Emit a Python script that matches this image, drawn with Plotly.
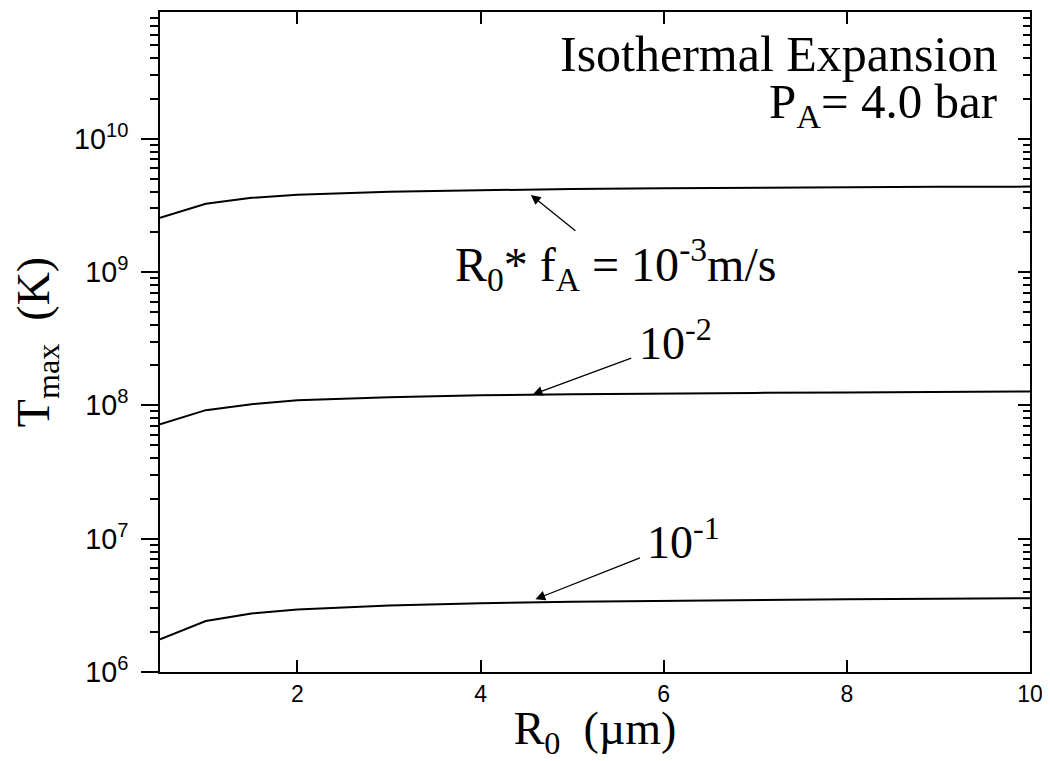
import plotly.graph_objects as go
import numpy as np

# Data
r0_um = [0.5, 1.0, 1.5, 2.0, 3.0, 4.0, 5.0, 6.0, 7.0, 8.0, 9.0, 10.0]
tmax_1e_3 = [2.55e9, 3.25e9, 3.6e9, 3.8e9, 4.0e9, 4.1e9, 4.2e9, 4.25e9, 4.3e9, 4.32e9, 4.35e9, 4.37e9]
tmax_1e_2 = [7.2e7, 9.2e7, 1.02e8, 1.09e8, 1.15e8, 1.19e8, 1.21e8, 1.23e8, 1.24e8, 1.25e8, 1.26e8, 1.27e8]
tmax_1e_1 = [1.76e6, 2.41e6, 2.75e6, 2.94e6, 3.15e6, 3.28e6, 3.36e6, 3.42e6, 3.47e6, 3.51e6, 3.55e6, 3.58e6]

series = [tmax_1e_3, tmax_1e_2, tmax_1e_1]

fig = go.Figure()
for s in series:
    fig.add_trace(go.Scatter(x=r0_um, y=s, mode="lines",
                             line=dict(color="black", width=2), showlegend=False))

# invisible trace to anchor right-hand mirror axis
fig.add_trace(go.Scatter(x=[r0_um[0]], y=[tmax_1e_1[0]], yaxis="y2", mode="markers",
                         marker=dict(opacity=0), showlegend=False, hoverinfo="skip"))

serif = "Liberation Serif, Times New Roman, serif"
sans = "Liberation Sans, Arial, sans-serif"

ylog_range = [6, 10.95]

fig.update_layout(
    width=1042, height=753,
    margin=dict(l=152, r=20, t=2, b=89),
    paper_bgcolor="white", plot_bgcolor="white",
    xaxis=dict(
        range=[0.5, 10], tickvals=[2, 4, 6, 8, 10],
        ticks="inside", ticklen=12, tickwidth=2, tickcolor="black",
        showline=True, linecolor="black", linewidth=2, mirror="ticks",
        showgrid=False, zeroline=False,
        tickfont=dict(family=sans, size=23, color="black"),
        title=dict(text="R<sub>0</sub>  (µm)", font=dict(family=serif, size=46, color="black"), standoff=7),
    ),
    yaxis=dict(
        type="log", range=ylog_range, dtick=1,
        exponentformat="power",
        ticks="outside", ticklen=17, tickwidth=2, tickcolor="black",
        ticklabelstandoff=8,
        minor=dict(ticks="outside", ticklen=8, tickwidth=1.5, tickcolor="black", dtick="D1", showgrid=False),
        showline=True, linecolor="black", linewidth=2, mirror=True,
        showgrid=False, zeroline=False,
        tickfont=dict(family=sans, size=23, color="black"),
        title=dict(text="T<sub>max</sub>  (K)", font=dict(family=serif, size=46, color="black"), standoff=21),
    ),
    yaxis2=dict(
        type="log", range=ylog_range, dtick=1, overlaying="y", side="right",
        ticks="inside", ticklen=12, tickwidth=2, tickcolor="black",
        minor=dict(ticks="inside", ticklen=7, tickwidth=1.5, tickcolor="black", dtick="D1", showgrid=False),
        showticklabels=False, showgrid=False, zeroline=False, showline=False,
    ),
)

annotations = [
    dict(text="Isothermal Expansion", x=0.964, y=0.936, xref="paper", yref="paper",
         xanchor="right", yanchor="middle", showarrow=False,
         font=dict(family=serif, size=50, color="black")),
    dict(text="P<sub>A</sub>= 4.0 bar", x=0.964, y=0.86, xref="paper", yref="paper",
         xanchor="right", yanchor="middle", showarrow=False,
         font=dict(family=serif, size=49, color="black")),
    dict(text="R<sub>0</sub>* f<sub>A</sub> = 10<sup>-3</sup>m/s", x=5.47, y=9.06,
         xanchor="center", yanchor="middle", showarrow=False,
         font=dict(family=serif, size=48, color="black")),
    dict(text="10<sup>-2</sup>", x=5.71, y=8.49, xanchor="left", yanchor="middle", showarrow=False,
         font=dict(family=serif, size=46, color="black")),
    dict(text="10<sup>-1</sup>", x=5.80, y=7.0, xanchor="left", yanchor="middle", showarrow=False,
         font=dict(family=serif, size=46, color="black")),
    # arrows
    dict(text="", x=4.55, y=9.578, ax=46, ay=37, showarrow=True,
         arrowhead=2, arrowsize=1.5, arrowwidth=1.3, arrowcolor="black", standoff=0),
    dict(text="", x=4.57, y=8.081, ax=100, ay=-37, showarrow=True,
         arrowhead=2, arrowsize=1.5, arrowwidth=1.3, arrowcolor="black", standoff=0),
    dict(text="", x=4.6, y=6.546, ax=106, ay=-42, showarrow=True,
         arrowhead=2, arrowsize=1.5, arrowwidth=1.3, arrowcolor="black", standoff=0),
]
fig.update_layout(annotations=annotations)

fig.write_html("out.html")
